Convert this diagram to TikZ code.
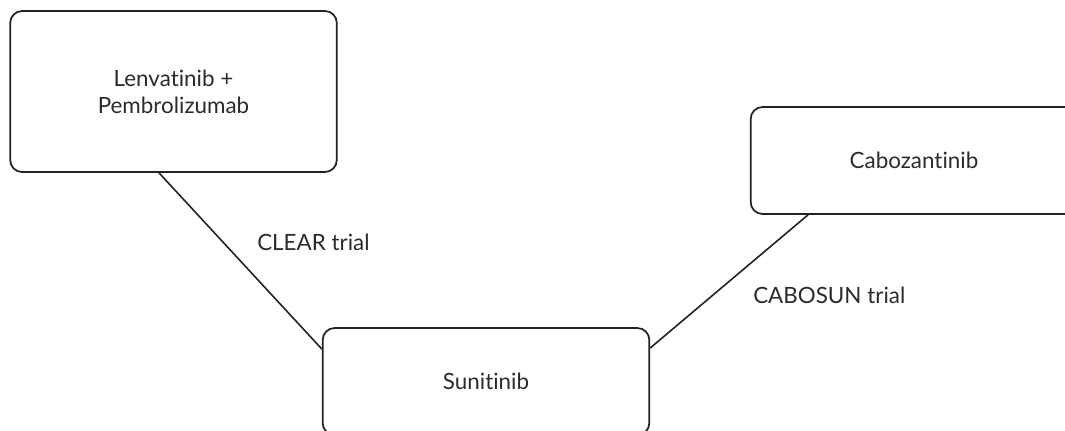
\documentclass[tikz,border=0pt]{standalone}
\usepackage{fontspec}
\setmainfont[Ligatures={NoCommon,NoContextual}]{Lato}
\definecolor{inkgray}{HTML}{222222}
\definecolor{textgray}{HTML}{2B2B2B}
\tikzset{
  drug/.style={draw=inkgray, line width=1.3pt, rounded corners=9pt, minimum width=245pt,
    text=textgray, align=center, font=\fontsize{16.8}{20.5}\selectfont, inner sep=0pt},
  link/.style={draw=inkgray, line width=1.2pt},
  trial/.style={text=textgray, font=\fontsize{16.8}{20.5}\selectfont, inner sep=0pt},
}
\begin{document}
\begin{tikzpicture}[x=0.75pt, y=-0.75pt]
        \clip (0,0) rectangle (1065,430);
        % Treatment boxes
        \node[drug, minimum height=120.75pt] (lenv) at (173.5,91.5) {Lenvatinib +\\Pembrolizumab};
        \node[drug, minimum height=80.25pt] (cabo) at (914,160.5) {Cabozantinib};
        \node[drug, minimum height=80.25pt] (sunit) at (486,381.5) {Sunitinib};

        % Trial links
        \draw[link] (lenv.south -| 159,0) -- (sunit.west |- 0,349);
        \draw[link] (cabo.south -| 808,0) -- (sunit.east |- 0,348);

        % Trial labels
        \node[trial, anchor=west] (clear) at (257,242) {CLEAR trial};
        \node[trial, anchor=west] (cabosun) at (753,295) {CABOSUN trial};
    \end{tikzpicture}
\end{document}
